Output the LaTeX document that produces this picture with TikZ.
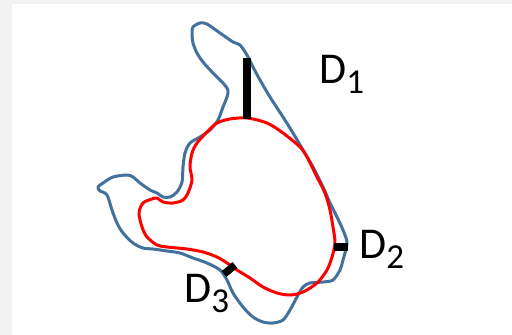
\documentclass[tikz,border=0pt]{standalone}
\usepackage{fontspec}
\setmainfont{Carlito}
\definecolor{outerblue}{RGB}{65,113,156}
\definecolor{pagegray}{RGB}{242,242,242}
\newcommand{\dlabel}[1]{D\raisebox{-10.5pt}{\fontsize{35}{35}\selectfont #1}}
\begin{document}
\begin{tikzpicture}[x=1pt,y=-1pt,
	outline/.style={line width=3pt,line join=round},
	thickbar/.style={line width=7.5pt},
	dtext/.style={anchor=base west,inner sep=0pt,font=\fontsize{44}{44}\selectfont}]
	\fill[pagegray] (0,0) rectangle (512,335);
	\fill[white] (12,4) rectangle (512,335);
	\useasboundingbox (0,0) rectangle (512,335);
	
	% outer contour
	\draw[outline,outerblue] plot[smooth cycle,tension=0.5] coordinates {
		(193,27) (200,23) (207,24) (220,33) (233,42) (240,45) (247,55) (253,67)
		(260,80) (270,97) (283,117) (293,133) (303,150) (313,167) (323,187)
		(330,203) (337,217) (343,230) (347,243) (343,260) (340,270) (333,280)
		(323,282) (310,283) (303,287) (297,297) (290,310) (283,320) (273,323)
		(263,322) (253,317) (243,307) (233,293) (227,280) (220,270) (207,263)
		(193,258) (180,253) (167,251) (153,249) (143,248) (133,243) (123,233)
		(117,223) (112,210) (108,197) (105,193) (100,191) (98,187) (103,183)
		(113,177) (127,175) (133,177) (140,183) (150,190) (157,193) (163,197)
		(170,197) (177,192) (182,182) (183,167) (185,153) (190,143) (200,137)
		(210,130) (218,120) (223,107) (227,97) (228,90) (223,83) (213,73)
		(203,62) (197,53) (193,43) (192,33)};
	
	% inner contour
	\draw[outline,red] plot[smooth cycle,tension=0.5] coordinates {
		(247,118) (267,123) (283,133) (300,147) (307,157) (317,177) (325,193)
		(330,210) (333,227) (335,243) (332,257) (327,270) (317,283) (303,292)
		(290,295) (277,293) (263,287) (250,278) (237,270) (227,263) (217,257)
		(203,252) (187,249) (167,247) (157,245) (147,237) (142,227) (139,213)
		(143,203) (152,199) (157,198) (163,202) (173,203) (183,200) (188,193)
		(192,180) (190,167) (192,153) (197,143) (207,132) (217,123) (230,119)};
	
	\coordinate (b1top) at (247,58);
	\coordinate (b1bot) at (247,119);
	\coordinate (b2in) at (334,247);
	\coordinate (b2out) at (348,247);
	\coordinate (b3in) at (235,265);
	\coordinate (b3out) at (224,274);
	\draw[thickbar] (b1top) -- (b1bot);
	\draw[thickbar] (b2in) -- (b2out);
	\draw[thickbar] (b3in) -- (b3out);
	
	\node[dtext] (d1) at (319,83) {\dlabel{1}};
	\node[dtext] (d2) at (359,258) {\dlabel{2}};
	\node[dtext] (d3) at (184,302) {\dlabel{3}};
\end{tikzpicture}
\end{document}
